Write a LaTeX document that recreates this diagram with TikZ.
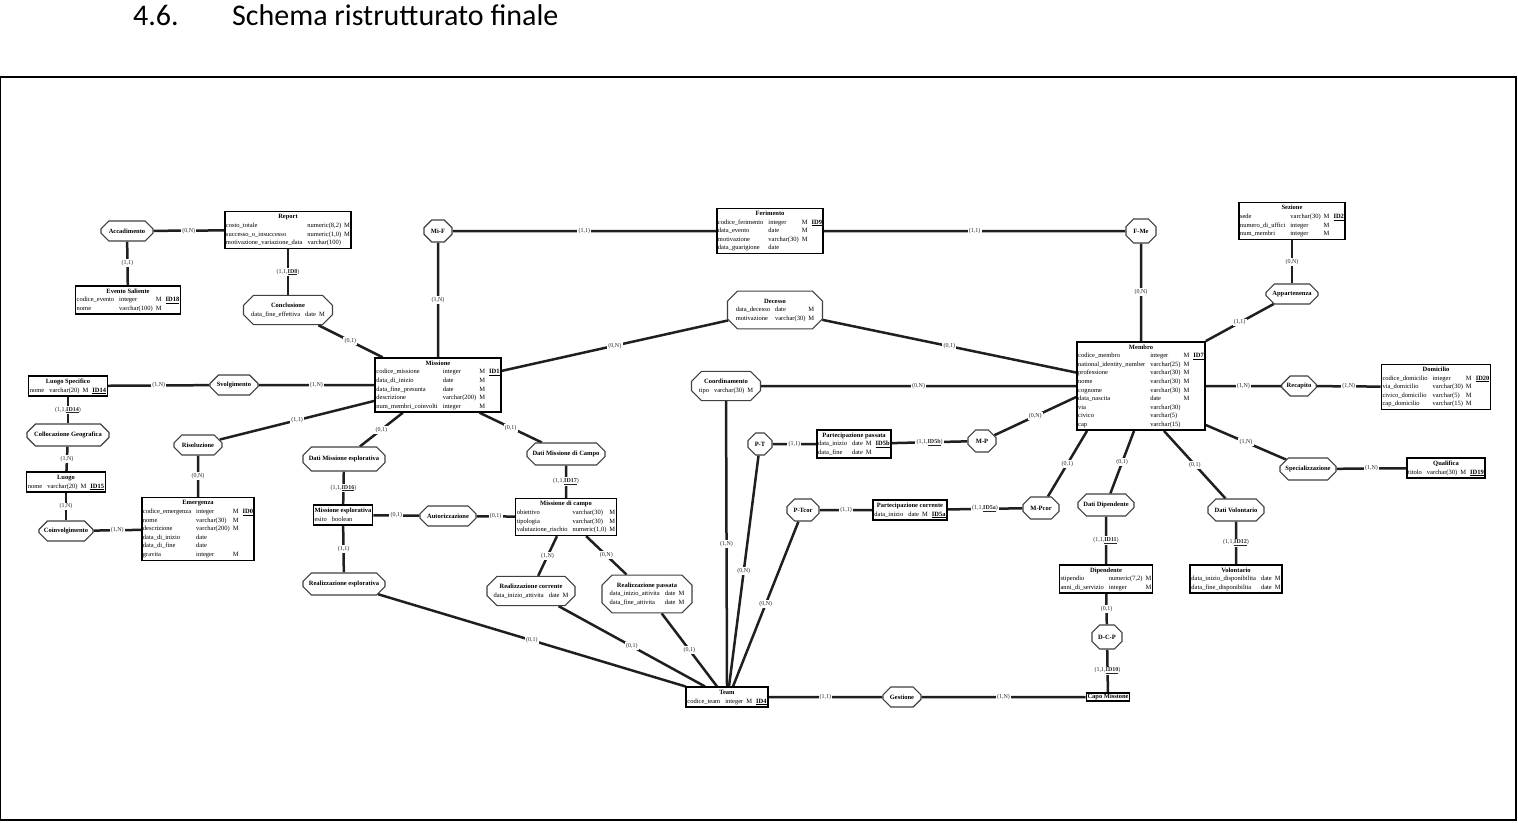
\documentclass[tikz,border=0pt]{standalone}
\usepackage{fontspec}
\setmainfont{Liberation Serif}
\newfontfamily\titlefont{Carlito}
\usetikzlibrary{shapes.misc,backgrounds}
\newcommand{\erfont}{\fontsize{6.5}{8.6}\selectfont}
\newcommand{\lbfont}{\fontsize{6}{6.5}\selectfont}
\newcommand{\IDu}[1]{\underline{\textbf{#1}}}
\newcommand{\IDc}[1]{\hspace{4pt}\underline{\textbf{#1}}}
\newcommand{\erent}[2]{\begin{tabular}{@{}l@{}}\hfill\textbf{#1}\hfill\null\\\begin{tabular}[t]{@{}l@{\hspace{5pt}}l@{\hspace{3pt}}l@{}l@{}}#2\end{tabular}\end{tabular}}
\begin{document}
\begin{tikzpicture}[x=1pt,y=-1pt,
  ent/.style={draw=black, line width=1.5pt, fill=white, inner sep=1.2pt, font=\erfont},
  rel/.style={chamfered rectangle, chamfered rectangle xsep=4.5pt, chamfered rectangle ysep=4.5pt,
     draw=black!75, line width=1.1pt, fill=white, inner sep=1pt, font=\erfont\bfseries,
     minimum height=20pt, minimum width=#1},
  rel/.default=20pt,
  rela/.style={chamfered rectangle, chamfered rectangle xsep=5pt, chamfered rectangle ysep=5pt,
     draw=black!75, line width=1.1pt, fill=white, inner sep=1pt, font=\erfont, minimum width=#1},
  rela/.default=60pt,
  cn/.style={line width=2.5pt, draw=black!88},
  lb/.style={fill=white, inner sep=1.2pt, font=\lbfont, text=black!85}]
\useasboundingbox (0,0) rectangle (1518,822);
% title and frame
\node[anchor=base west, inner sep=0, font=\titlefont\fontsize{30}{34}\selectfont] (num) at (133,25) {4.6.};
\node[anchor=base west, inner sep=0, font=\titlefont\fontsize{30}{34}\selectfont] (ttl) at (232,25) {Schema ristrutturato finale};
\draw[line width=1.3pt] (0.7,77) rectangle (1516,820);

% ---- nodes ----
\node[rel=52pt] (accad) at (127,231) {Accadimento};
\node[ent] (report) at (288,230) {\erent{Report}{costo\_totale & numeric(8,2) & M\\ successo\_o\_insuccesso & numeric(1,0) & M\\ motivazione\_variazione\_data & varchar(100)}};
\node[ent] (evento) at (128,300) {\erent{Evento Saliente}{codice\_evento & integer & M & \IDc{ID18}\\ nome & varchar(100) & M}};
\node[rela=89pt] (concl) at (288,310) {\erent{Conclusione}{data\_fine\_effettiva & date & M}};
\node[ent] (missione) at (438,385) {\erent{Missione}{codice\_missione & integer & M & \IDc{ID1}\\ data\_di\_inizio & date & M\\ data\_fine\_presunta & date & M\\ descrizione & varchar(200) & M\\ num\_membri\_coinvolti & integer & M}};
\node[rel=28pt, minimum height=22pt] (mif) at (438,231) {Mi-F};
\node[ent] (ferimento) at (770,231) {\erent{Ferimento}{codice\_ferimento & integer & M & \IDc{ID9}\\ data\_evento & date & M\\ motivazione & varchar(30) & M\\ data\_guarigione & date}};
\node[rel=30pt, minimum height=24pt] (fme) at (1141,231) {F-Me};
\node[rela=95pt] (decesso) at (775,310) {\erent{Decesso}{data\_decesso & date & M\\ motivazione & varchar(30) & M}};
\node[ent] (luogosp) at (68,386) {\erent{Luogo Specifico}{nome & varchar(20) & M & \IDc{ID14}}};
\node[rel=48pt] (svolg) at (234,385) {Svolgimento};
\node[rel=82pt, minimum height=22pt] (colloc) at (68,435) {Collocazione Geografica};
\node[ent] (luogo) at (66,482) {\erent{Luogo}{nome & varchar(20) & M & \IDc{ID15}}};
\node[rel=54pt] (coinv) at (66,531) {Coinvolgimento};
\node[ent] (emerg) at (198,529) {\erent{Emergenza}{codice\_emergenza & integer & M & \IDc{ID0}\\ nome & varchar(30) & M\\ descrizione & varchar(200) & M\\ data\_di\_inizio & date\\ data\_di\_fine & date\\ gravita & integer & M}};
\node[rel=48pt] (risol) at (198,445) {Risoluzione};
\node[rel=82pt, minimum height=24pt] (dme) at (344,459) {Dati Missione esplorativa};
\node[ent] (mesp) at (343,515) {\erent{Missione esplorativa}{esito & boolean}};
\node[rel=56pt] (autor) at (448,516) {Autorizzazione};
\node[ent] (mcampo) at (566,517) {\erent{Missione di campo}{obiettivo & varchar(30) & M\\ tipologia & varchar(30) & M\\ valutazione\_rischio & numeric(1,0) & M}};
\node[rel=78pt, minimum height=22pt] (dmc) at (566,454) {Dati Missione di Campo};
\node[rel=82pt, minimum height=22pt] (realesp) at (344,584) {Realizzazione esplorativa};
\node[rela=88pt] (realcor) at (531,591) {\erent{Realizzazione corrente}{data\_inizio\_attivita & date & M}};
\node[rela=90pt] (realpas) at (647,594) {\erent{Realizzazione passata}{data\_inizio\_attivita & date & M\\ data\_fine\_attivita & date & M}};
\node[ent] (team) at (727,697) {\erent{Team}{codice\_team & integer & M & \IDc{ID4}}};
\node[rel=38pt] (gest) at (902,697) {Gestione};
\node[ent] (capo) at (1108,697) {\textbf{Capo Missione}};
\node[rela=69pt] (coord) at (726,386) {\erent{Coordinamento}{tipo & varchar(30) & M}};
\node[rel=24pt, minimum height=22pt] (pt) at (760,444) {P-T};
\node[ent] (ppass) at (854,444) {\erent{Partecipazione passata}{data\_inizio & date & M & \IDc{ID5b}\\ data\_fine & date & M}};
\node[rel=28pt, minimum height=22pt] (mp) at (982,441) {M-P};
\node[rel=32pt, minimum height=22pt] (ptcor) at (803,510) {P-Tcor};
\node[ent] (pcorr) at (910,510) {\erent{Partecipazione corrente}{data\_inizio & date & M & \IDc{ID5a}}};
\node[rel=36pt, minimum height=22pt] (mpcor) at (1041,508) {M-Pcor};
\node[ent] (membro) at (1141,386) {\erent{Membro}{codice\_membro & integer & M & \IDc{ID7}\\ national\_identity\_number & varchar(25) & M\\ professione & varchar(30) & M\\ nome & varchar(30) & M\\ cognome & varchar(30) & M\\ data\_nascita & date & M\\ via & varchar(30)\\ civico & varchar(5)\\ cap & varchar(15)}};
\node[ent] (sezione) at (1292,221) {\erent{Sezione}{sede & varchar(30) & M & \IDc{ID2}\\ numero\_di\_uffici & integer & M\\ num\_membri & integer & M}};
\node[rel=52pt] (appart) at (1292,294) {Appartenenza};
\node[rel=34pt] (recap) at (1299,386) {Recapito};
\node[ent] (domic) at (1436,387) {\erent{Domicilio}{codice\_domicilio & integer & M & \IDc{ID20}\\ via\_domicilio & varchar(30) & M\\ civico\_domicilio & varchar(5) & M\\ cap\_domicilio & varchar(15) & M}};
\node[rel=56pt, minimum height=22pt] (spec) at (1308,469) {Specializzazione};
\node[ent] (qualif) at (1446,468) {\erent{Qualifica}{titolo & varchar(30) & M & \IDc{ID19}}};
\node[rel=56pt, minimum height=22pt] (ddip) at (1106,505) {Dati Dipendente};
\node[ent] (dip) at (1106,579) {\erent{Dipendente}{stipendio & numeric(7,2) & M\\ anni\_di\_servizio & integer & M}};
\node[rel=30pt, minimum height=24pt] (dcp) at (1107,637) {D-C-P};
\node[rel=56pt, minimum height=22pt] (dvol) at (1236,510) {Dati Volontario};
\node[ent] (vol) at (1236,579) {\erent{Volontario}{data\_inizio\_disponibilita & date & M\\ data\_fine\_disponibilita & date & M}};

% ---- connectors ----
\begin{scope}[on background layer]
\draw[cn] (accad) -- node[lb]{(0,N)} (report);
\draw[cn] (accad) -- node[lb]{(1,1)} (evento);
\draw[cn] (report) -- node[lb]{(1,1,\IDu{ID8})} (concl);
\draw[cn] (concl) -- node[lb]{(0,1)} (missione);
\draw[cn] (mif) -- node[lb]{(1,1)} (ferimento);
\draw[cn] (mif) -- node[lb]{(1,N)} (missione);
\draw[cn] (ferimento) -- node[lb]{(1,1)} (fme);
\draw[cn] (fme) -- node[lb]{(0,N)} (membro);
\draw[cn] (missione) -- node[lb]{(0,N)} (decesso);
\draw[cn] (decesso) -- node[lb]{(0,1)} (membro);
\draw[cn] (luogosp) -- node[lb]{(1,N)} (svolg);
\draw[cn] (svolg) -- node[lb]{(1,N)} (missione);
\draw[cn] (luogosp) -- node[lb]{(1,1,\IDu{ID14})} (colloc);
\draw[cn] (colloc) -- node[lb]{(1,N)} (luogo);
\draw[cn] (luogo) -- node[lb]{(1,N)} (coinv);
\draw[cn] (coinv) -- node[lb]{(1,N)} (emerg);
\draw[cn] (risol) -- node[lb]{(0,N)} (emerg);
\draw[cn] (risol) -- node[lb]{(1,1)} (missione);
\draw[cn] (missione) -- node[lb]{(0,1)} (dme);
\draw[cn] (dme) -- node[lb]{(1,1,\IDu{ID16})} (mesp);
\draw[cn] (mesp) -- node[lb]{(0,1)} (autor);
\draw[cn] (autor) -- node[lb]{(0,1)} (mcampo);
\draw[cn] ([xshift=-22pt]missione.south east) -- node[lb]{(0,1)} (dmc);
\draw[cn] (dmc) -- node[lb]{(1,1,\IDu{ID17})} (mcampo);
\draw[cn] (mesp) -- node[lb]{(1,1)} (realesp);
\draw[cn] (mcampo) -- node[lb]{(1,N)} (realcor);
\draw[cn] (mcampo) -- node[lb]{(0,N)} (realpas);
\draw[cn] (realesp) -- node[lb]{(0,1)} (team.north west);
\draw[cn] (realcor) -- node[lb]{(0,1)} ([xshift=-22pt]team.north);
\draw[cn] (realpas) -- node[lb]{(0,1)} ([xshift=-10pt]team.north);
\draw[cn] (coord) -- node[lb]{(1,N)} (team.north);
\draw[cn] (pt) -- node[lb]{(0,N)} ([xshift=2pt]team.north);
\draw[cn] (ptcor) -- node[lb]{(0,N)} ([xshift=6pt]team.north);
\draw[cn] (team) -- node[lb]{(1,1)} (gest);
\draw[cn] (gest) -- node[lb]{(1,N)} (capo);
\draw[cn] (coord) -- node[lb]{(0,N)} (membro);
\draw[cn] (pt) -- node[lb]{(1,1)} (ppass);
\draw[cn] (ppass) -- node[lb]{(1,1,\IDu{ID5b})} (mp);
\draw[cn] (mp) -- node[lb]{(0,N)} ([yshift=-11pt]membro.west);
\draw[cn] (ptcor) -- node[lb]{(1,1)} (pcorr);
\draw[cn] (pcorr) -- node[lb]{(1,1,\IDu{ID5a})} (mpcor);
\draw[cn] (mpcor) -- node[lb]{(0,1)} ([xshift=-54pt]membro.south);
\draw[cn] (sezione) -- node[lb]{(0,N)} (appart);
\draw[cn] (appart) -- node[lb]{(1,1)} (membro.north east);
\draw[cn] (membro) -- node[lb]{(1,N)} (recap);
\draw[cn] (recap) -- node[lb]{(1,N)} (domic);
\draw[cn] ([yshift=-39pt]membro.east) -- node[lb]{(1,N)} (spec);
\draw[cn] (spec) -- node[lb]{(1,N)} (qualif);
\draw[cn] ([xshift=-7pt]membro.south) -- node[lb]{(0,1)} (ddip);
\draw[cn] (ddip) -- node[lb]{(1,1,\IDu{ID11})} (dip);
\draw[cn] (dip) -- node[lb]{(0,1)} (dcp);
\draw[cn] (dcp) -- node[lb]{(1,1,\IDu{ID10})} (capo);
\draw[cn] ([xshift=23pt]membro.south) -- node[lb]{(0,1)} (dvol);
\draw[cn] (dvol) -- node[lb]{(1,1,\IDu{ID12})} (vol);
\end{scope}
\end{tikzpicture}
\end{document}
